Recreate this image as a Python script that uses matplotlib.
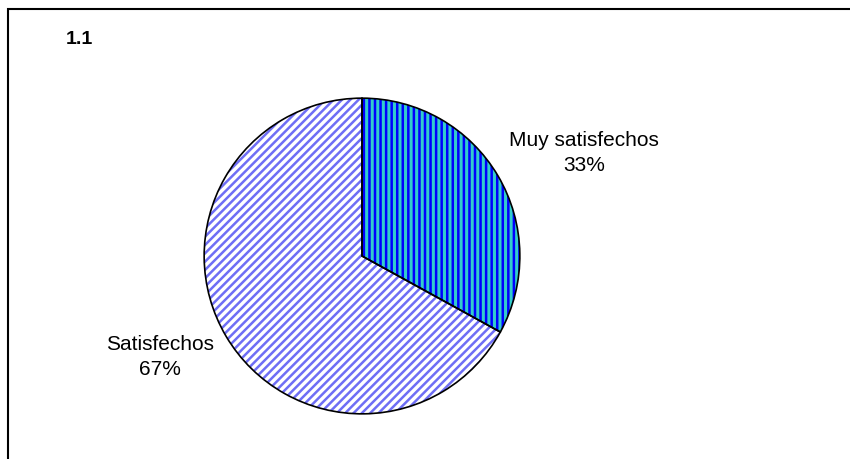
import matplotlib
matplotlib.use("Agg")
import matplotlib.pyplot as plt
from matplotlib.patches import Rectangle

labels = ["Muy satisfechos", "Satisfechos"]
values = [33, 67]
title = "1.1"

plt.rcParams['font.family'] = ['Liberation Sans', 'DejaVu Sans']
plt.rcParams['hatch.linewidth'] = 1.8

fig = plt.figure(figsize=(8.5, 4.6), dpi=100)
W, H = 850.0, 460.0

# outer frame (runs off the right and bottom edges)
fig.patches.append(Rectangle((8 / W, -0.1), 1.2, 1.1 - 10 / H, transform=fig.transFigure,
                             fill=False, edgecolor="black", linewidth=1.5))

cx, cy, r = 362, 257, 161
ax = fig.add_axes([(cx - r) / W, (H - cy - r) / H, 2 * r / W, 2 * r / H])

# hatched fills
wedges, _ = ax.pie(values, startangle=90, counterclock=False, radius=1,
                   colors=["#33CCCC", "white"],
                   wedgeprops=dict(linewidth=0))
wedges[0].set_hatch("|||")
wedges[0].set_edgecolor("#0000FF")
wedges[1].set_hatch("////")
wedges[1].set_edgecolor("#6E6EF5")

# black outlines
ax.pie(values, startangle=90, counterclock=False, radius=1,
       wedgeprops=dict(fill=False, edgecolor="black", linewidth=1.2))
ax.set_xlim(-1.02, 1.02)
ax.set_ylim(-1.02, 1.02)
ax.set_aspect("equal")
ax.axis("off")

fig.text(584 / W, 1 - 153 / H, f"{labels[0]}\n{values[0]}%", ha="center", va="center",
         fontsize=15, linespacing=1.35)
fig.text(160 / W, 1 - 357 / H, f"{labels[1]}\n{values[1]}%", ha="center", va="center",
         fontsize=15, linespacing=1.35)
fig.text(79 / W, 1 - 39 / H, title, ha="center", va="center", fontsize=14, fontweight="bold")

fig.savefig("out.png", dpi=100)
